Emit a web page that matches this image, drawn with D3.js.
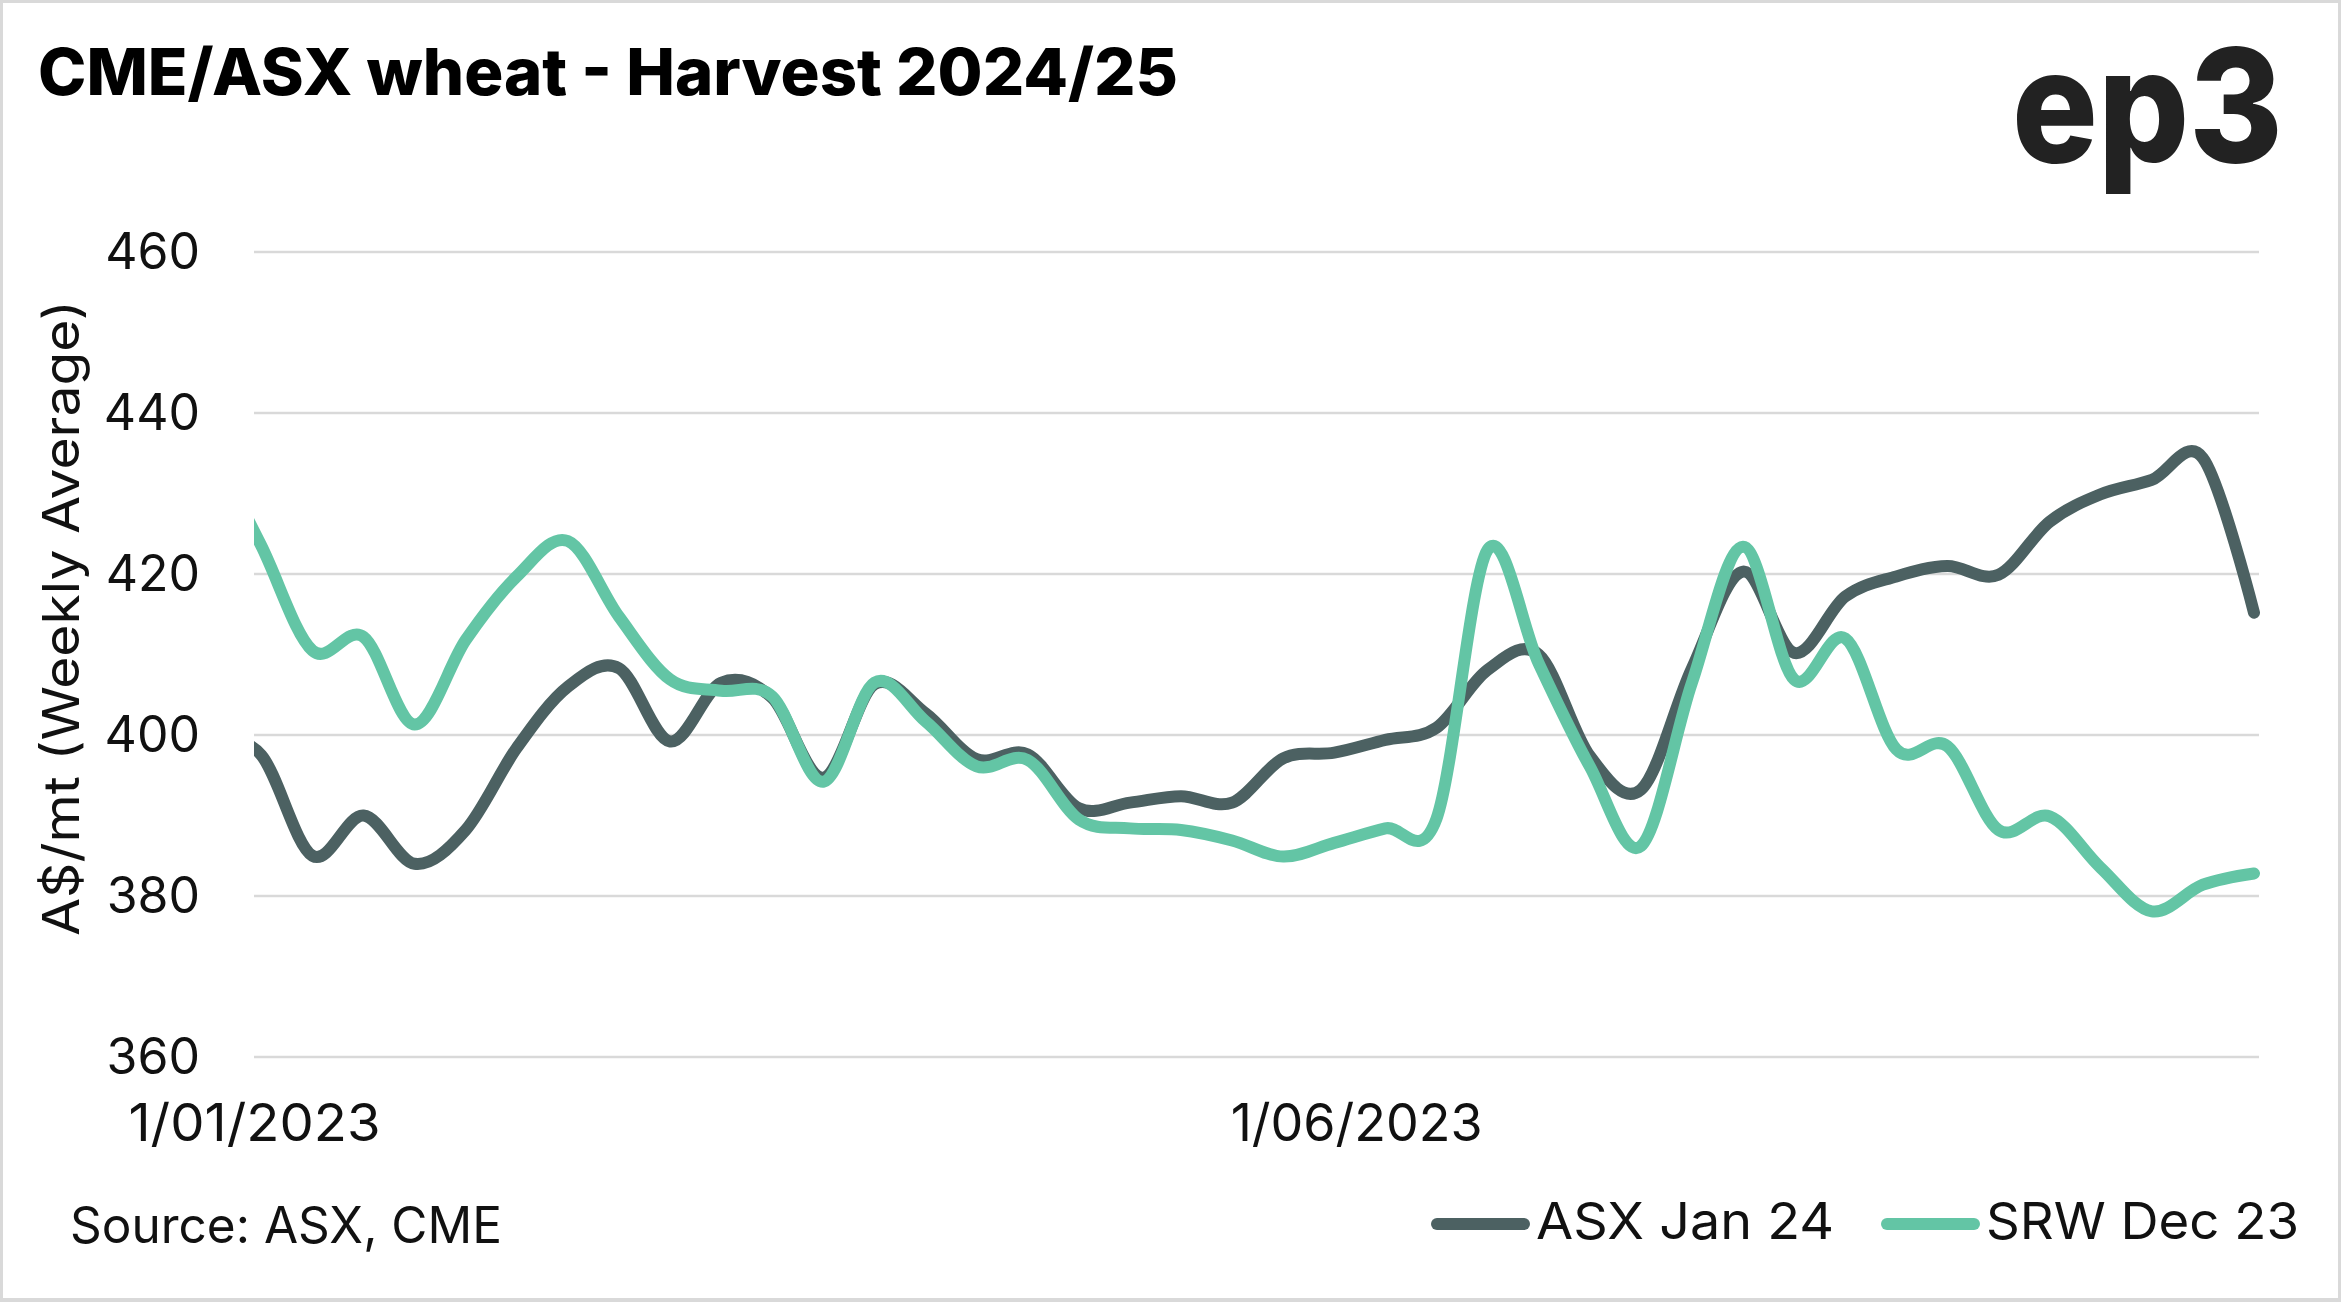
<!DOCTYPE html>
<html><head><meta charset="utf-8">
<script src="https://cdn.jsdelivr.net/npm/d3@7"></script>
<style>html,body{margin:0;padding:0;background:#fff;} svg{display:block}</style>
</head><body>
<svg id="chart" width="2341" height="1302"></svg>
<script>
// ---- data (weekly averages, A$/mt) ----
const dates = ["2022-12-26","2023-01-02","2023-01-09","2023-01-16","2023-01-23","2023-01-30","2023-02-06","2023-02-13","2023-02-20","2023-02-27",
"2023-03-06","2023-03-13","2023-03-20","2023-03-27","2023-04-03","2023-04-10","2023-04-17","2023-04-24","2023-05-01","2023-05-08",
"2023-05-15","2023-05-22","2023-05-29","2023-06-05","2023-06-12","2023-06-19","2023-06-26","2023-07-03","2023-07-10","2023-07-17",
"2023-07-24","2023-07-31","2023-08-07","2023-08-14","2023-08-21","2023-08-28","2023-09-04","2023-09-11","2023-09-18","2023-09-25","2023-10-02"];
const asxJan24 = [400,397.5,385,390,384,388.2,398.4,406,408.3,399.2,
406.5,404.6,394.7,406.3,402.7,397.0,397.6,390.9,391.6,392.4,
391.6,397.1,397.8,399.4,400.9,408.1,410.0,397.4,393.2,408.3,
420.3,410.2,417.2,419.7,421.0,419.9,426.5,429.9,431.7,434.4,415.2];
const srwDec23 = [436,423.5,410.5,412.2,401.3,411.8,419.7,424.1,414.7,406.9,
405.5,404.8,394.2,406.5,401.7,396.1,396.9,389.5,388.4,388.2,
386.9,384.9,386.6,388.4,389.6,423.0,408.9,396.1,386.2,406.5,
423.4,406.9,412.0,398.2,398.6,388.2,389.9,383.5,378.1,381.4,382.8];
const seriesNames = ["ASX Jan 24","SRW Dec 23"];
const seriesColors = ["#4C6162","#63C5A5"];
const yTicks = [360,380,400,420,440,460];
const xTickDates = ["2023-01-01","2023-06-01"];
const xDomain = ["2023-01-01","2023-10-02"];
const titleText = "CME/ASX wheat - Harvest 2024/25";
const yTitle = "A$/mt (Weekly Average)";
const sourceText = "Source: ASX, CME";

const parse = d3.timeParse("%Y-%m-%d");
const W = 2341, H = 1302;
const svg = d3.select("#chart");
const FONT = "Inter, 'DejaVu Sans', sans-serif";

// frame
svg.append("rect").attr("x",0).attr("y",0).attr("width",W).attr("height",H).attr("fill","#d9d9d9");
svg.append("rect").attr("x",3).attr("y",3).attr("width",W-6).attr("height",H-7).attr("fill","#fff");

const plotLeft = 254, plotRight = 2259, plotTop = 252, plotBottom = 1057;
const x = d3.scaleTime().domain(xDomain.map(parse)).range([254, 2254]);
const y = d3.scaleLinear().domain([360,460]).range([plotBottom, plotTop]);

// title & logo
svg.append("text").attr("x",38).attr("y",95).attr("font-family",FONT).attr("font-weight",800)
  .attr("font-size",65).attr("fill","#000").attr("textLength",1140).attr("lengthAdjust","spacingAndGlyphs").text(titleText);
svg.append("text").attr("x",2012).attr("y",162).attr("font-family",FONT).attr("font-weight",800)
  .attr("font-size",158).attr("fill","#222").attr("textLength",271).attr("lengthAdjust","spacingAndGlyphs").text("ep3");

// gridlines
svg.append("g").selectAll("line").data(yTicks).join("line")
  .attr("x1",plotLeft).attr("x2",plotRight).attr("y1",d=>y(d)).attr("y2",d=>y(d))
  .attr("stroke","#d9d9d9").attr("stroke-width",2.5);

// y axis
const ya = svg.append("g").attr("transform",`translate(${plotLeft},0)`)
  .call(d3.axisLeft(y).tickValues(yTicks).tickSize(0).tickPadding(54));
ya.select(".domain").remove();
ya.selectAll("text").attr("font-family",FONT).attr("font-size",50).attr("fill","#111");

// x axis
const xa = svg.append("g").attr("transform",`translate(0,${plotBottom})`)
  .call(d3.axisBottom(x).tickValues(xTickDates.map(parse)).tickFormat(d3.timeFormat("%-d/%m/%Y")).tickSize(0).tickPadding(47));
xa.select(".domain").remove();
xa.selectAll("text").attr("font-family",FONT).attr("font-size",52).attr("fill","#111")
  .attr("textLength",252).attr("lengthAdjust","spacingAndGlyphs");

// y title
svg.append("text").attr("transform","translate(79,618) rotate(-90)").attr("text-anchor","middle")
  .attr("font-family",FONT).attr("font-size",50).attr("fill","#111")
  .attr("textLength",636).attr("lengthAdjust","spacingAndGlyphs").text(yTitle);

// lines
svg.append("clipPath").attr("id","clip").append("rect")
  .attr("x",plotLeft).attr("y",0).attr("width",W-plotLeft).attr("height",H);
const line = d3.line().x((d,i)=>x(parse(dates[i]))).y(d=>y(d)).curve(d3.curveCatmullRom.alpha(0));
const g = svg.append("g").attr("clip-path","url(#clip)");
[asxJan24, srwDec23].forEach((s,i)=>{
  g.append("path").datum(s).attr("d",line).attr("fill","none").attr("stroke",seriesColors[i])
   .attr("stroke-width",12).attr("stroke-linecap","round").attr("stroke-linejoin","round");
});

// source
svg.append("text").attr("x",70).attr("y",1243).attr("font-family",FONT).attr("font-size",50).attr("fill","#111")
  .attr("textLength",432).attr("lengthAdjust","spacingAndGlyphs").text(sourceText);

// legend
const legendX = [1437, 1887];
const legendTextLen = [298, 313];
seriesNames.forEach((name,i)=>{
  svg.append("line").attr("x1",legendX[i]).attr("x2",legendX[i]+87).attr("y1",1224).attr("y2",1224)
    .attr("stroke",seriesColors[i]).attr("stroke-width",12).attr("stroke-linecap","round");
  svg.append("text").attr("x",legendX[i]+99).attr("y",1239).attr("font-family",FONT).attr("font-size",51).attr("fill","#111")
    .attr("textLength",legendTextLen[i]).attr("lengthAdjust","spacingAndGlyphs").text(name);
});
</script>
</body></html>
